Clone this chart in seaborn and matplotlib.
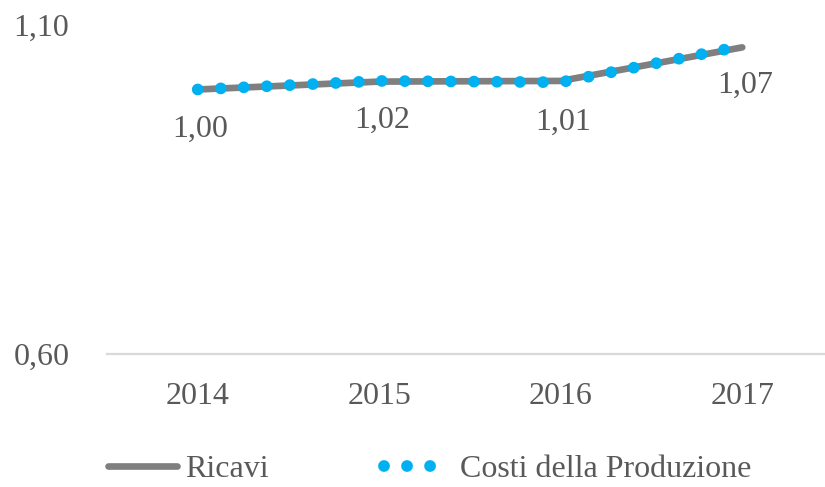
import seaborn as sns
import pandas as pd
import matplotlib.pyplot as plt

years = ["2014", "2015", "2016", "2017"]
ricavi = [1.002, 1.014, 1.015, 1.066]
costi = [1.002, 1.015, 1.013, 1.068]
point_labels = ["1,00", "1,02", "1,01", "1,07"]
y_ticks = [0.60, 1.10]
y_tick_labels = ["0,60", "1,10"]

sns.set_theme(style="white")
plt.rcParams["font.family"] = ["Liberation Serif", "DejaVu Serif"]
text_color = "#595959"

data = pd.DataFrame({"Anno": years, "Ricavi": ricavi, "Costi della Produzione": costi})

fig = plt.figure(figsize=(8.25, 4.87), dpi=100)
ax = fig.add_axes([107 / 825, 1 - 354 / 487, (833 - 107) / 825, (354 - 25) / 487])

sns.lineplot(data=data, x="Anno", y="Ricavi", ax=ax, color="#7f7f7f",
             linewidth=4.8, solid_capstyle="round", label="Ricavi", sort=False)
sns.lineplot(data=data, x="Anno", y="Costi della Produzione", ax=ax, color="#00b0f0",
             linewidth=8.5, linestyle=(0, (0.001, 1.95)), dash_capstyle="round",
             label="Costi della Produzione", sort=False)

for i, (v, lab) in enumerate(zip(costi, point_labels)):
    ax.annotate(lab, xy=(i, v), xytext=(2, -34), textcoords="offset points",
                ha="center", va="baseline", fontsize=23, color=text_color)

ax.set_xlim(-0.5, 3.5)
ax.set_ylim(0.60, 1.10)
ax.set_yticks(y_ticks)
ax.set_yticklabels(y_tick_labels)
ax.tick_params(axis="y", length=0, pad=27, labelsize=23, labelcolor=text_color)
ax.tick_params(axis="x", length=0, pad=20, labelsize=23, labelcolor=text_color)
ax.set_xlabel("")
ax.set_ylabel("")
for s in ["top", "right", "left"]:
    ax.spines[s].set_visible(False)
ax.spines["bottom"].set_color("#d9d9d9")
ax.spines["bottom"].set_linewidth(1.6)
ax.grid(False)

handles, labels = ax.get_legend_handles_labels()
ax.get_legend().remove()
leg = fig.legend(handles, labels, loc="center", bbox_to_anchor=(430 / 825, 1 - 469 / 487),
                 ncol=2, frameon=False, fontsize=23, handlelength=2.15,
                 handletextpad=0.25, columnspacing=3.6, borderpad=0.1)
for t in leg.get_texts():
    t.set_color(text_color)

fig.savefig("out.png", dpi=100)
